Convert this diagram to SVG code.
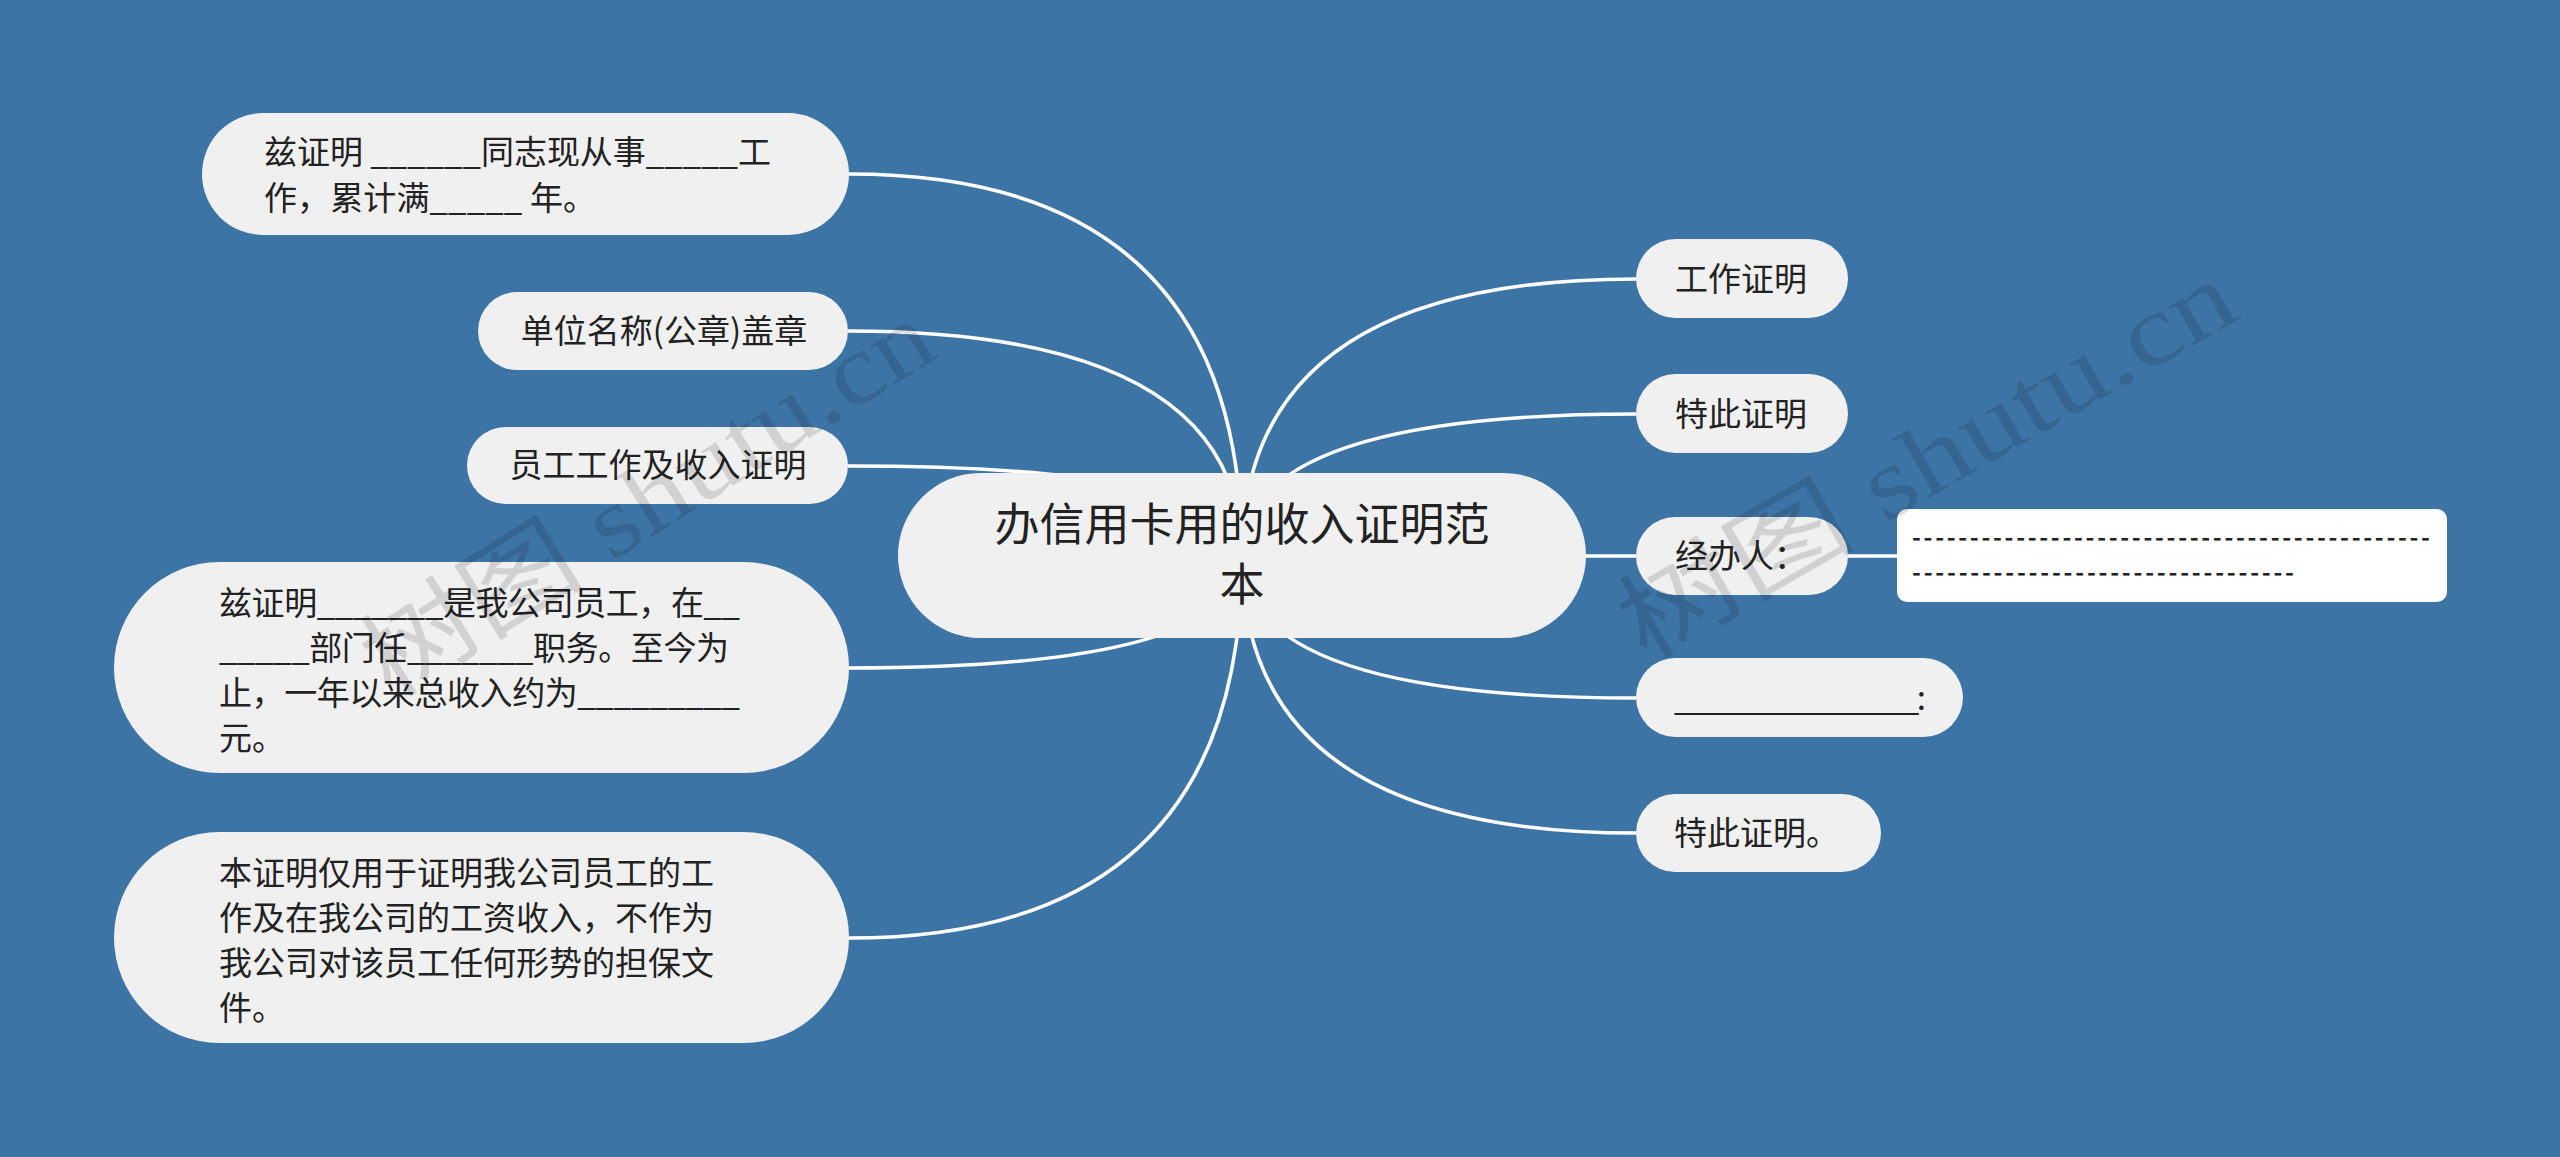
<svg xmlns="http://www.w3.org/2000/svg" width="2560" height="1157" viewBox="0 0 2560 1157">
<style>
.pill{fill:#f0f0f0;}
.t{font-family:"Noto Sans CJK SC","Liberation Sans",sans-serif;font-size:33px;fill:#222222;}
.c{text-anchor:middle;}
.root{font-size:45px;}
.note{fill:#ffffff;}
.dash{font-family:"Noto Sans CJK SC","Liberation Sans",sans-serif;font-size:24px;font-weight:bold;fill:#222222;}
.conn{fill:none;stroke:#ffffff;stroke-width:3.5;}
.wm{font-family:"Liberation Serif","Noto Sans CJK SC",serif;font-size:100px;fill:#000000;fill-opacity:0.13;}
</style>
<rect x="0" y="0" width="2560" height="1157" fill="#3d74a6"/>
<g id="connectors">
<path class="conn" d="M1242,556 Q1242,174 849,174"/>
<path class="conn" d="M1242,556 Q1242,331 848,331"/>
<path class="conn" d="M1242,556 Q1242,466 848,466"/>
<path class="conn" d="M1242,556 Q1242,668 849,668"/>
<path class="conn" d="M1242,556 Q1242,938 849,938"/>
<path class="conn" d="M1242,556 Q1242,279 1636,279"/>
<path class="conn" d="M1242,556 Q1242,414 1636,414"/>
<path class="conn" d="M1242,556 L1636,556"/>
<path class="conn" d="M1242,556 Q1242,698 1636,698"/>
<path class="conn" d="M1242,556 Q1242,833 1636,833"/>
<path class="conn" d="M1848,556 L1897,556"/>
</g>
<g id="root">
<rect class="pill" x="898" y="473" width="688" height="165" rx="82.5"/>
<text class="t c root" x="1242" y="541">办信用卡用的收入证明范</text>
<text class="t c root" x="1242" y="601">本</text>
</g>
<g id="n1">
<rect class="pill" x="202" y="113" width="647" height="122" rx="61"/>
<text class="t" x="264" y="164" textLength="507" lengthAdjust="spacing">兹证明 ______同志现从事_____工</text>
<text class="t" x="264" y="210" textLength="332" lengthAdjust="spacing">作，累计满_____ 年。</text>
</g>
<g id="n2">
<rect class="pill" x="478" y="292" width="370" height="78" rx="39"/>
<text class="t c" x="664" y="343">单位名称(公章)盖章</text>
</g>
<g id="n3">
<rect class="pill" x="467" y="427" width="381" height="77" rx="38.5"/>
<text class="t c" x="658" y="477">员工工作及收入证明</text>
</g>
<g id="n4">
<rect class="pill" x="114" y="562" width="735" height="211" rx="105.5"/>
<text class="t" x="219" y="615" textLength="521" lengthAdjust="spacing">兹证明_______是我公司员工，在__</text>
<text class="t" x="219" y="660" textLength="510" lengthAdjust="spacing">_____部门任_______职务。至今为</text>
<text class="t" x="219" y="705" textLength="521" lengthAdjust="spacing">止，一年以来总收入约为_________</text>
<text class="t" x="219" y="750">元。</text>
</g>
<g id="n5">
<rect class="pill" x="114" y="832" width="735" height="211" rx="105.5"/>
<text class="t" x="219" y="885">本证明仅用于证明我公司员工的工</text>
<text class="t" x="219" y="930">作及在我公司的工资收入，不作为</text>
<text class="t" x="219" y="975">我公司对该员工任何形势的担保文</text>
<text class="t" x="219" y="1020">件。</text>
</g>
<g id="r1">
<rect class="pill" x="1636" y="239" width="212" height="79" rx="39.5"/>
<text class="t c" x="1741" y="291">工作证明</text>
</g>
<g id="r2">
<rect class="pill" x="1636" y="374" width="212" height="79" rx="39.5"/>
<text class="t c" x="1741" y="426">特此证明</text>
</g>
<g id="r3">
<rect class="pill" x="1636" y="517" width="212" height="78" rx="39"/>
<text class="t c" x="1741" y="568">经办人：</text>
</g>
<g id="r3note">
<rect class="note" x="1897" y="509" width="550" height="93" rx="10"/>
<text class="dash" x="1912" y="546" textLength="518" lengthAdjust="spacing">---------------------------------------------</text>
<text class="dash" x="1912" y="581" textLength="382" lengthAdjust="spacing">---------------------------------</text>
</g>
<g id="r4">
<rect class="pill" x="1636" y="658" width="327" height="79" rx="39.5"/>
<text class="t" x="1674" y="710" textLength="252" lengthAdjust="spacing">_______________:</text>
</g>
<g id="r5">
<rect class="pill" x="1636" y="794" width="245" height="78" rx="39"/>
<text class="t" x="1674" y="845">特此证明。</text>
</g>
<g id="watermarks">
<text class="wm" x="390" y="700" transform="rotate(-32 390 700)" textLength="650" lengthAdjust="spacingAndGlyphs">树图 shutu.cn</text>
<text class="wm" x="1645" y="662" transform="rotate(-30 1645 662)" textLength="690" lengthAdjust="spacingAndGlyphs">树图 shutu.cn</text>
</g>
</svg>
